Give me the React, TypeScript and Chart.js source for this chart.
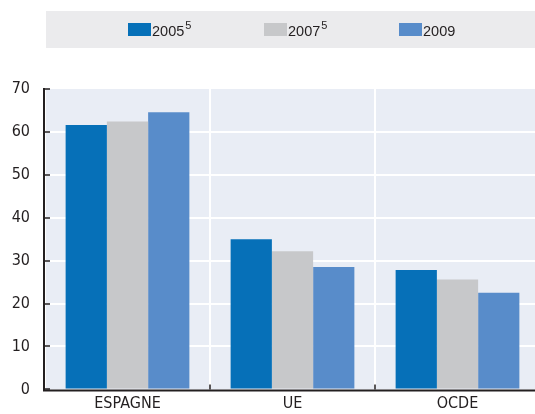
import React, { useEffect, useRef } from "react";
import { Chart, registerables } from "chart.js";
Chart.register(...registerables);

const categories = ["ESPAGNE", "UE", "OCDE"];
const series2005 = [61.6, 35.0, 27.8];
const series2007 = [62.4, 32.2, 25.6];
const series2009 = [64.6, 28.5, 22.5];
const seriesLabels = ["2005", "2007", "2009"];
const seriesNotes = ["5", "5", ""];
const seriesColors = ["#0670b8", "#c7c8ca", "#588cca"];
const yMin = 0;
const yMax = 70;
const yStep = 10;

const FONT = "'Liberation Sans', Arial, sans-serif";
const AXIS_FONT = "'DejaVu Sans Condensed', 'Liberation Sans', sans-serif";
const TEXT = "#231f20";
const LEGEND_BG = "#ebebed";
const PLOT_BG = "#e9edf5";

export default function App() {
  const ref = useRef<HTMLCanvasElement>(null);

  useEffect(() => {
    if (!ref.current) return;
    const legendX = [128, 264, 399];
    const plugin = {
      id: "custom",
      beforeDraw(chart: any) {
        const { ctx, chartArea: a } = chart;
        ctx.save();
        ctx.fillStyle = LEGEND_BG;
        ctx.fillRect(46, 11, chart.width - 46, 37);
        ctx.fillStyle = PLOT_BG;
        ctx.fillRect(a.left, a.top, a.right - a.left, a.bottom - a.top);
        chart.data.datasets.forEach((ds: any, i: number) => {
          const x = legendX[i];
          ctx.fillStyle = ds.backgroundColor;
          ctx.fillRect(x, 23, 23, 13);
          ctx.fillStyle = TEXT;
          ctx.font = `14.5px ${FONT}`;
          ctx.textBaseline = "alphabetic";
          ctx.textAlign = "left";
          ctx.fillText(ds.label, x + 24, 36);
          const w = ctx.measureText(ds.label).width;
          if (seriesNotes[i]) {
            ctx.font = `11px ${FONT}`;
            ctx.fillText(seriesNotes[i], x + 25 + w, 29);
          }
        });
        ctx.restore();
      },
      afterDraw(chart: any) {
        const { ctx, chartArea: a, scales } = chart;
        ctx.save();
        ctx.strokeStyle = TEXT;
        ctx.lineWidth = 2;
        ctx.beginPath();
        ctx.moveTo(a.left - 1, a.top - 1);
        ctx.lineTo(a.left - 1, a.bottom + 1);
        ctx.lineTo(a.right, a.bottom + 1);
        ctx.stroke();
        ctx.lineWidth = 1.5;
        ctx.beginPath();
        scales.y.ticks.forEach((t: any) => {
          const y = Math.round(scales.y.getPixelForValue(t.value));
          ctx.moveTo(a.left, y);
          ctx.lineTo(a.left + 5, y);
        });
        for (let i = 1; i < categories.length; i++) {
          const x = Math.round(
            (scales.x.getPixelForValue(i - 1) + scales.x.getPixelForValue(i)) / 2
          );
          ctx.moveTo(x, a.bottom);
          ctx.lineTo(x, a.bottom - 5);
        }
        ctx.stroke();
        ctx.restore();
      },
    };

    const chart = new Chart(ref.current, {
      type: "bar",
      data: {
        labels: categories,
        datasets: [series2005, series2007, series2009].map((d, i) => ({
          label: seriesLabels[i],
          data: d,
          backgroundColor: seriesColors[i],
          borderWidth: 0,
          barPercentage: 1,
          categoryPercentage: 0.75,
        })),
      },
      options: {
        responsive: false,
        animation: false,
        layout: { padding: { top: 89, left: 0, right: 0, bottom: 0 } },
        plugins: { legend: { display: false }, tooltip: { enabled: false } },
        scales: {
          x: {
            afterFit(scale: any) {
              scale.height = 21;
            },
            grid: {
              offset: true,
              color: "#ffffff",
              lineWidth: 2,
              drawTicks: false,
            },
            border: { display: false },
            ticks: {
              color: TEXT,
              font: { family: AXIS_FONT, size: 16 },
              padding: 5,
            },
          },
          y: {
            min: yMin,
            max: yMax,
            afterFit(scale: any) {
              scale.width = 45;
            },
            grid: {
              color: (c: any) =>
                c.tick && (c.tick.value === yMax || c.tick.value === yMin)
                  ? "rgba(0,0,0,0)"
                  : "#ffffff",
              lineWidth: 2,
              drawTicks: false,
            },
            border: { display: false },
            ticks: {
              stepSize: yStep,
              color: TEXT,
              font: { family: AXIS_FONT, size: 16 },
              padding: 15,
            },
          },
        },
      },
      plugins: [plugin],
    });
    return () => chart.destroy();
  }, []);

  return (
    <div
      style={{
        position: "fixed",
        left: 0,
        top: 0,
        width: 535,
        height: 414,
        overflow: "hidden",
        background: "#ffffff",
      }}
    >
      <canvas ref={ref} width={540} height={414} style={{ width: 540, height: 414 }} />
    </div>
  );
}
